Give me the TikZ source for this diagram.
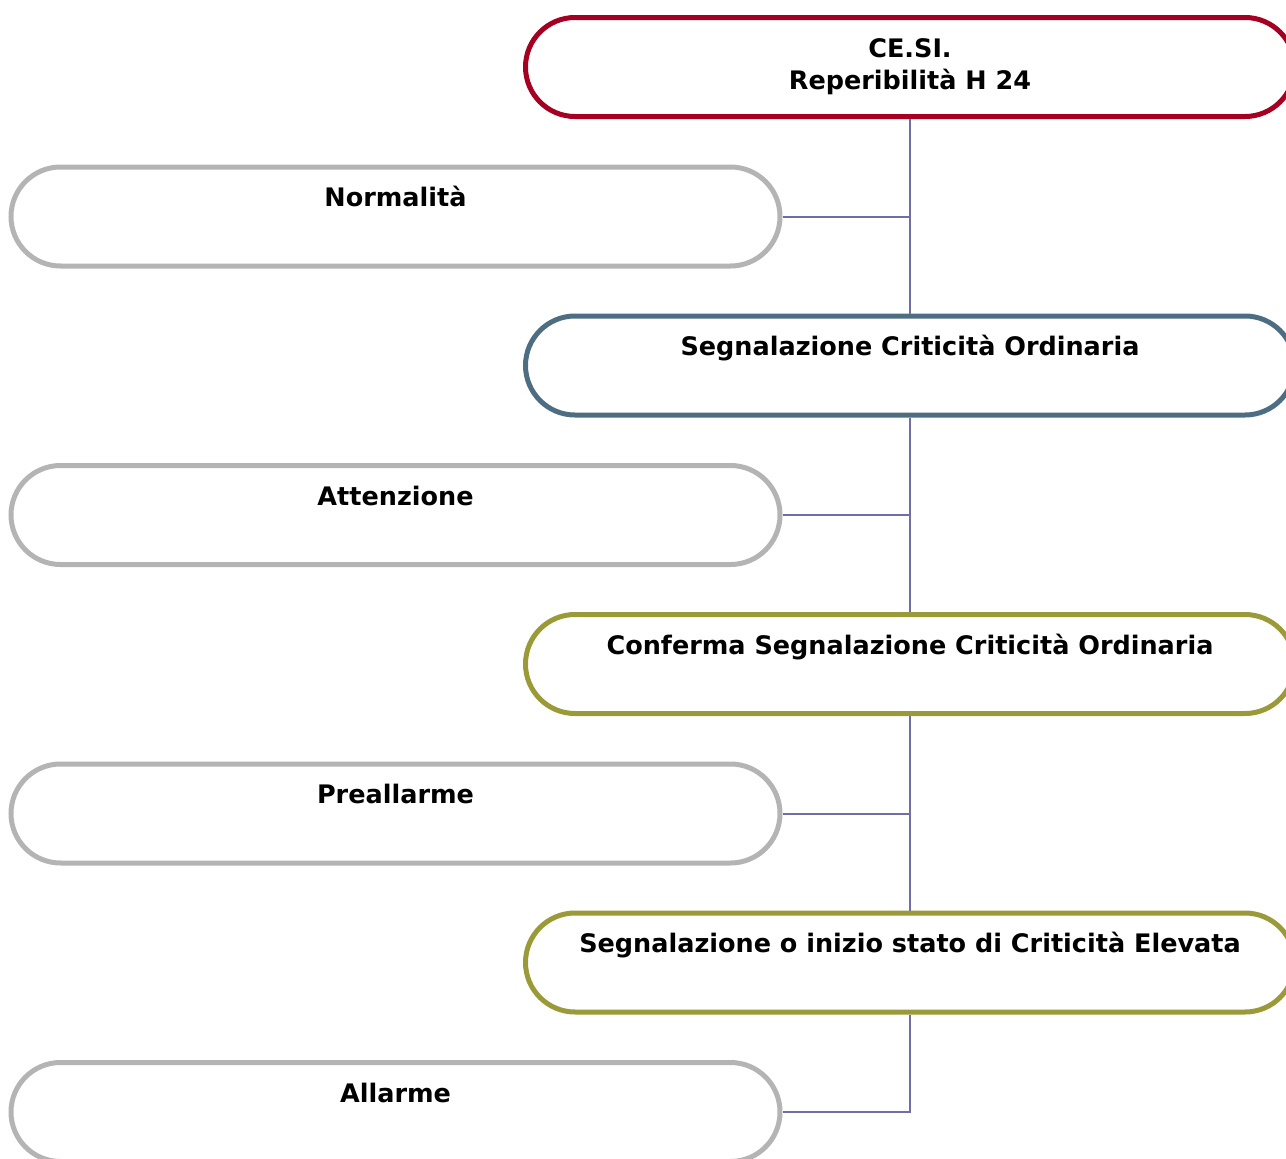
\documentclass[tikz,border=0pt]{standalone}
\usepackage{fontspec}
\setmainfont{DejaVu Sans}
\usetikzlibrary{positioning}
\definecolor{cesired}{HTML}{A50021}
\definecolor{ordblue}{HTML}{4D6E82}
\definecolor{elevolive}{HTML}{9B9A38}
\definecolor{phasegray}{HTML}{B4B4B4}
\definecolor{linkpurple}{HTML}{6F6FA6}
\begin{document}
\begin{tikzpicture}[x=1pt, y=1pt, node distance=298.5pt,
    every node/.style={draw, rounded corners=49.5pt, line width=5pt, fill=white,
      minimum width=769pt, minimum height=99pt, align=center, inner sep=0pt,
      font=\fontsize{25.5}{32}\selectfont\bfseries},
    phase/.style={draw=phasegray},
    link/.style={draw=linkpurple, line width=2pt}]
    \useasboundingbox (0,0) rectangle (1286,-1159);

    \node[draw=cesired] (cesi) at (910,-67) {\strut CE.SI.\\\strut Reperibilità H 24};
    \node[draw=ordblue] (ord) [below of=cesi] {\strut Segnalazione Criticità Ordinaria\\\strut};
    \node[draw=elevolive] (conf) [below of=ord] {\strut Conferma Segnalazione Criticità Ordinaria\\\strut};
    \node[draw=elevolive] (elev) [below of=conf] {\strut Segnalazione o inizio stato di Criticità Elevata\\\strut};

    \node[phase] (norm) at (395.5,-216.5) {\strut Normalità\\\strut};
    \node[phase] (att) [below of=norm] {\strut Attenzione\\\strut};
    \node[phase] (pre) [below of=att] {\strut Preallarme\\\strut};
    \node[phase] (all) [below of=pre] {\strut Allarme\\\strut};

    \draw[link] (cesi.south) -- (ord.north);
    \draw[link] (ord.south) -- (conf.north);
    \draw[link] (conf.south) -- (elev.north);
    \draw[link] (elev.south) |- (all.east);
    \draw[link] (norm.east) -- (norm.east -| cesi.south);
    \draw[link] (att.east) -- (att.east -| cesi.south);
    \draw[link] (pre.east) -- (pre.east -| cesi.south);
\end{tikzpicture}
\end{document}
